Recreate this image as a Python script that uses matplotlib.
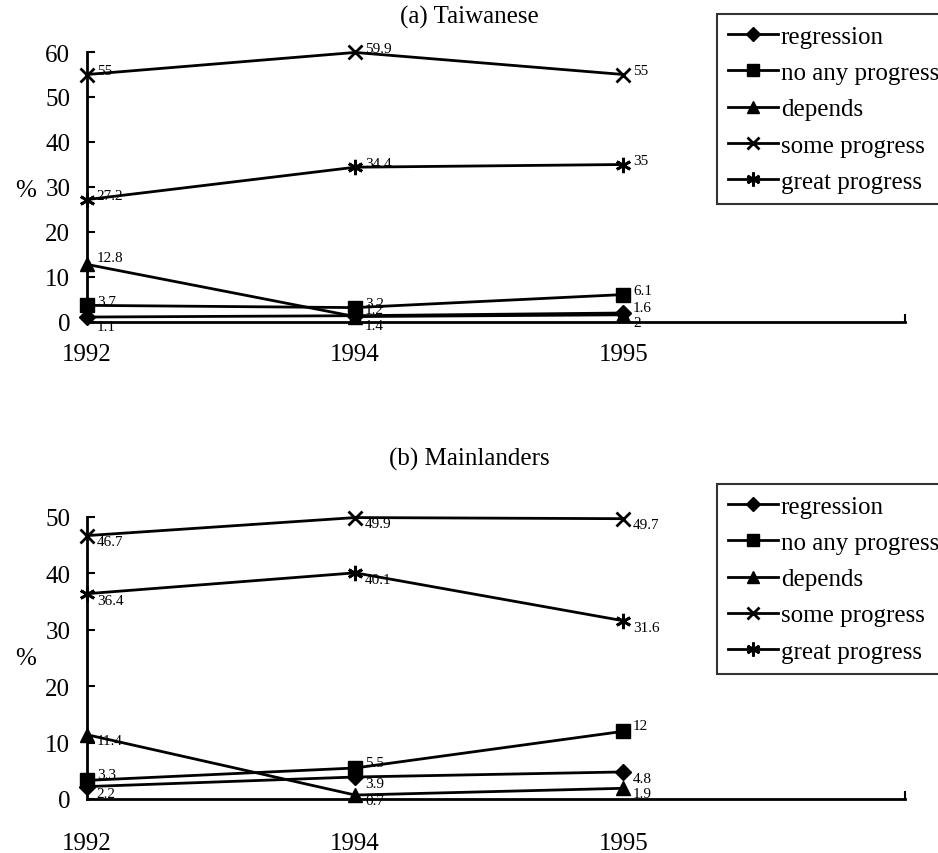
import matplotlib as mpl
import matplotlib.pyplot as plt
from matplotlib.lines import Line2D

mpl.use("Agg")

plt.rcParams["font.family"] = ["Liberation Serif", "DejaVu Serif"]

years = ["1992", "1994", "1995"]
series_names = ["regression", "no any progress", "depends", "some progress", "great progress"]

taiwan_regression = [1.1, 1.4, 2]
taiwan_no_progress = [3.7, 3.2, 6.1]
taiwan_depends = [12.8, 1.2, 1.6]
taiwan_some = [55, 59.9, 55]
taiwan_great = [27.2, 34.4, 35]

mainland_regression = [2.2, 3.9, 4.8]
mainland_no_progress = [3.3, 5.5, 12]
mainland_depends = [11.4, 0.7, 1.9]
mainland_some = [46.7, 49.9, 49.7]
mainland_great = [36.4, 40.1, 31.6]

MARKERS = {
    "regression": dict(marker="D", markersize=8),
    "no any progress": dict(marker="s", markersize=10),
    "depends": dict(marker="^", markersize=10),
    "some progress": dict(marker="x", markersize=10, markeredgewidth=2),
    "great progress": dict(marker=(6, 2, 0), markersize=11, markeredgewidth=2),
}

W, H = 938, 854


def _panel(fig, rect, values, title, ymax, ylabel_y, label_dy, tick_pad, title_y):
    ax = fig.add_axes(rect)
    x = range(len(years))
    for name, ys in zip(series_names, values):
        ax.plot(x, ys, color="black", linewidth=2, clip_on=False, zorder=3, **MARKERS[name])
        for xi, yi in zip(x, ys):
            ax.annotate(
                f"{yi:g}",
                (xi, yi),
                xytext=(7, label_dy[name]),
                textcoords="offset points",
                fontsize=11,
                va="center",
                ha="left",
            )
    ax.set_xlim(0, 3.05)
    ax.set_ylim(0, ymax)
    ax.set_yticks(range(0, ymax + 1, 10))
    ax.set_xticks(list(x))
    ax.set_xticklabels(years, fontsize=18)
    ax.set_xticks([3.05], minor=True)
    ax.tick_params(axis="x", which="major", length=0, pad=tick_pad)
    ax.tick_params(axis="x", which="minor", length=6, direction="in", width=1.5)
    ax.tick_params(axis="y", direction="in", length=6, width=1.5, labelsize=18, pad=12)
    for side in ("top", "right"):
        ax.spines[side].set_visible(False)
    for side in ("left", "bottom"):
        ax.spines[side].set_linewidth(2)
    ax.text(-0.075, ylabel_y, "%", transform=ax.transAxes, fontsize=18, ha="center", va="center")
    fig.text(0.5, title_y, title, fontsize=18, ha="center", va="center")
    return ax


def _legend(fig, top):
    handles = [
        Line2D([], [], color="black", linewidth=2, **{**MARKERS[n], "markersize": MARKERS[n]["markersize"] - 1})
        for n in series_names
    ]
    leg = fig.legend(
        handles,
        series_names,
        loc="upper left",
        bbox_to_anchor=(717 / W, top),
        fontsize=18,
        frameon=True,
        fancybox=False,
        edgecolor="black",
        handlelength=2.0,
        handletextpad=0.1,
        labelspacing=0.55,
        borderpad=0.45,
        borderaxespad=0,
    )
    leg.get_frame().set_linewidth(1.5)


fig = plt.figure(figsize=(W / 100, H / 100), dpi=100)

top_dy = {"regression": -7, "no any progress": 3, "depends": 5, "some progress": 3, "great progress": 3}
_panel(
    fig,
    [87 / W, 1 - 323 / H, 0.872, (323 - 53) / H],
    [taiwan_regression, taiwan_no_progress, taiwan_depends, taiwan_some, taiwan_great],
    "(a) Taiwanese",
    60,
    0.49,
    top_dy,
    15,
    1 - 17 / H,
)

bottom_dy = {"regression": -5, "no any progress": 4, "depends": -4, "some progress": -4, "great progress": -5}
_panel(
    fig,
    [87 / W, 1 - 800 / H, 0.872, (800 - 518) / H],
    [mainland_regression, mainland_no_progress, mainland_depends, mainland_some, mainland_great],
    "(b) Mainlanders",
    50,
    0.5,
    bottom_dy,
    24,
    1 - 459 / H,
)

_legend(fig, 1 - 15 / H)
_legend(fig, 1 - 485 / H)

fig.savefig("out.png", dpi=100)
